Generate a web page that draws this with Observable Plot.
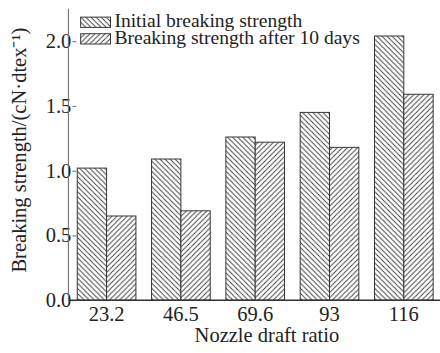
<!DOCTYPE html>
<html><head><meta charset="utf-8">
<script src="https://cdn.jsdelivr.net/npm/d3@7"></script>
<script src="https://cdn.jsdelivr.net/npm/@observablehq/plot@0.6"></script>
<style>
html,body{margin:0;padding:0;overflow:hidden;background:#fff;}
#wrap{position:relative;width:440px;height:353px;overflow:hidden;background:#fff;}
#chart{position:absolute;left:0;top:0;}
</style>
</head><body>
<div id="wrap"><div id="chart"></div></div>
<script>
const ratios = ["23.2", "46.5", "69.6", "93", "116"];
const seriesNames = ["Initial breaking strength", "Breaking strength after 10 days"];
const initial = [1.02, 1.09, 1.26, 1.45, 2.04];
const after10 = [0.65, 0.69, 1.22, 1.18, 1.59];
const yTicks = [0, 0.5, 1.0, 1.5, 2.0];
const xLabel = "Nozzle draft ratio";
const yLabel = "Breaking strength/(cN·dtex⁻¹)";
const patternIds = ["hatchBack", "hatchFwd"];

const data = ratios.flatMap((r, i) => [
  {ratio: r, series: seriesNames[0], value: initial[i]},
  {ratio: r, series: seriesNames[1], value: after10[i]}
]);

const font = '"Liberation Serif", "Times New Roman", serif';
const chart = Plot.plot({
  width: 450, height: 353,
  marginLeft: 70, marginRight: 0, marginTop: 9, marginBottom: 46,
  style: {fontFamily: font, fontSize: "21px", color: "#222", background: "transparent"},
  fx: {domain: ratios, paddingInner: 0.2, paddingOuter: 0.1},
  x: {domain: seriesNames, padding: 0, axis: null},
  y: {domain: [0, 2.25]},
  color: {domain: seriesNames, range: patternIds.map(id => `url(#${id})`)},
  marks: [
    Plot.barY(data, {fx: "ratio", x: "series", y: "value", fill: "series", stroke: "#333", strokeWidth: 1}),
    Plot.axisY({ticks: yTicks, tickFormat: d3.format(".1f"), tickSize: 4, tickPadding: 1.5, stroke: "#666",
      fontSize: 21, fill: "#222", label: null}),
    Plot.axisFx({anchor: "bottom", tickSize: 0, tickPadding: 6, fontSize: 21, fill: "#222", label: null})
  ]
});

const svg = d3.select(chart);
const defs = svg.insert("defs", ":first-child");
function addPattern(sel, id, back) {
  const s = 5.2;
  const p = sel.append("pattern").attr("id", id).attr("patternUnits", "userSpaceOnUse")
    .attr("width", s).attr("height", s);
  p.append("rect").attr("width", s).attr("height", s).attr("fill", "#fff");
  const d = back
    ? `M0,0L${s},${s}M${-s/2},${s/2}L${s/2},${s*1.5}M${s/2},${-s/2}L${s*1.5},${s/2}`
    : `M0,${s}L${s},0M${-s/2},${s/2}L${s/2},${-s/2}M${s/2},${s*1.5}L${s*1.5},${s/2}`;
  p.append("path").attr("d", d).attr("stroke", "#333").attr("stroke-width", 0.9).attr("fill", "none");
}
addPattern(defs, patternIds[0], true);
addPattern(defs, patternIds[1], false);

const ys = chart.scale("y");
const fxs = chart.scale("fx");
const y0 = ys.apply(0), yTop = ys.apply(ys.domain[1]);
svg.append("line").attr("x1", fxs.range[0]).attr("x2", fxs.range[1]).attr("y1", y0).attr("y2", y0)
  .attr("stroke", "#333").attr("stroke-width", 1.5);
svg.append("line").attr("x1", fxs.range[0]).attr("x2", fxs.range[0]).attr("y1", yTop).attr("y2", y0)
  .attr("stroke", "#777").attr("stroke-width", 1.2);

// axis titles
svg.append("text").text(xLabel).attr("x", 273).attr("y", y0 + 43)
  .attr("text-anchor", "middle").attr("font-family", font).attr("font-size", 21).attr("fill", "#222");
svg.append("text").text(yLabel).attr("transform", `translate(27,${(yTop + y0) / 2 - 4.5}) rotate(-90)`)
  .attr("text-anchor", "middle").attr("font-family", font).attr("font-size", 21).attr("fill", "#222");

// legend (inside plot, top-left)
const lg = svg.append("g").attr("transform", `translate(${fxs.range[0] + 12},17)`);
seriesNames.forEach((name, i) => {
  const g = lg.append("g").attr("transform", `translate(0,${i * 17})`);
  g.append("rect").attr("x", 0.5).attr("y", 0.5).attr("width", 30.5).attr("height", 10.5)
    .attr("fill", `url(#${patternIds[i]})`).attr("stroke", "#333");
  g.append("text").text(name).attr("x", 35).attr("y", 11).attr("text-anchor", "start")
    .attr("font-family", font).attr("font-size", 20).attr("fill", "#222");
});

document.getElementById("chart").appendChild(chart);
</script>
</body></html>
